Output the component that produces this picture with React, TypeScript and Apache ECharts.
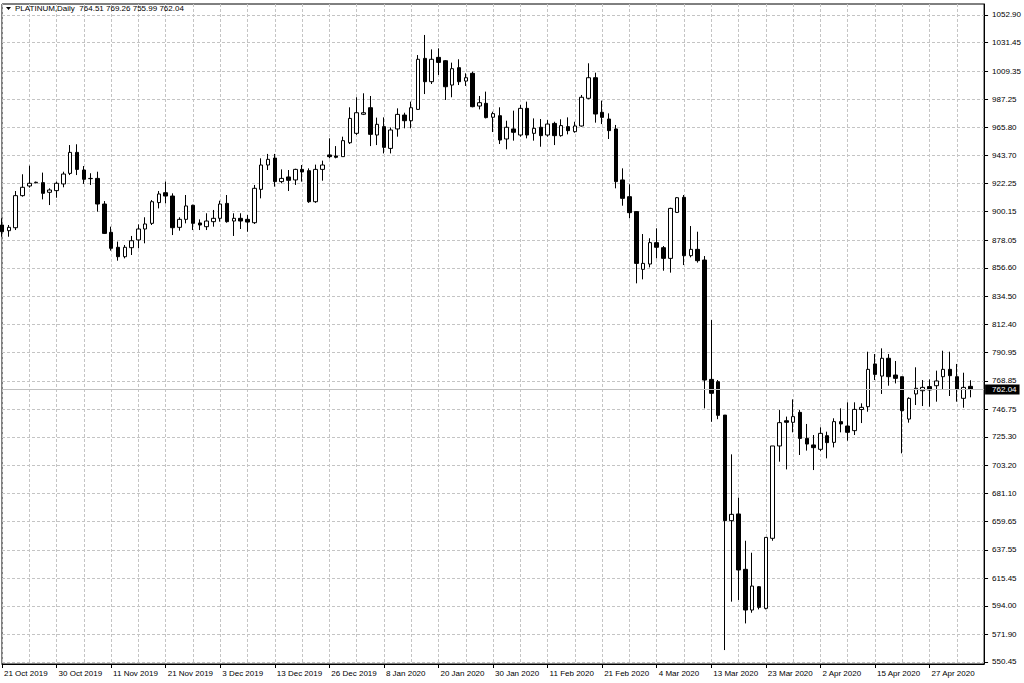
import React, { useEffect, useRef } from "react";
import * as echarts from "echarts";

const symbolName = "PLATINUM,Daily";

const dates = [
  "21 Oct 2019", "22 Oct 2019", "23 Oct 2019", "24 Oct 2019", "25 Oct 2019", "27 Oct 2019", "28 Oct 2019", "29 Oct 2019",
  "30 Oct 2019", "31 Oct 2019", "1 Nov 2019", "4 Nov 2019", "5 Nov 2019", "6 Nov 2019", "7 Nov 2019", "8 Nov 2019",
  "11 Nov 2019", "12 Nov 2019", "13 Nov 2019", "14 Nov 2019", "15 Nov 2019", "18 Nov 2019", "19 Nov 2019", "20 Nov 2019",
  "21 Nov 2019", "22 Nov 2019", "25 Nov 2019", "26 Nov 2019", "27 Nov 2019", "28 Nov 2019", "29 Nov 2019", "2 Dec 2019",
  "3 Dec 2019", "4 Dec 2019", "5 Dec 2019", "6 Dec 2019", "9 Dec 2019", "10 Dec 2019", "11 Dec 2019", "12 Dec 2019",
  "13 Dec 2019", "16 Dec 2019", "17 Dec 2019", "18 Dec 2019", "19 Dec 2019", "20 Dec 2019", "23 Dec 2019", "24 Dec 2019",
  "26 Dec 2019", "27 Dec 2019", "30 Dec 2019", "31 Dec 2019", "2 Jan 2020", "3 Jan 2020", "6 Jan 2020", "7 Jan 2020",
  "8 Jan 2020", "9 Jan 2020", "10 Jan 2020", "13 Jan 2020", "14 Jan 2020", "15 Jan 2020", "16 Jan 2020", "17 Jan 2020",
  "20 Jan 2020", "21 Jan 2020", "22 Jan 2020", "23 Jan 2020", "24 Jan 2020", "27 Jan 2020", "28 Jan 2020", "29 Jan 2020",
  "30 Jan 2020", "31 Jan 2020", "3 Feb 2020", "4 Feb 2020", "5 Feb 2020", "6 Feb 2020", "7 Feb 2020", "10 Feb 2020",
  "11 Feb 2020", "12 Feb 2020", "13 Feb 2020", "14 Feb 2020", "17 Feb 2020", "18 Feb 2020", "19 Feb 2020", "20 Feb 2020",
  "21 Feb 2020", "24 Feb 2020", "25 Feb 2020", "26 Feb 2020", "27 Feb 2020", "28 Feb 2020", "2 Mar 2020", "3 Mar 2020",
  "4 Mar 2020", "5 Mar 2020", "6 Mar 2020", "8 Mar 2020", "9 Mar 2020", "10 Mar 2020", "11 Mar 2020", "12 Mar 2020",
  "13 Mar 2020", "15 Mar 2020", "16 Mar 2020", "17 Mar 2020", "18 Mar 2020", "19 Mar 2020", "20 Mar 2020", "22 Mar 2020",
  "23 Mar 2020", "24 Mar 2020", "25 Mar 2020", "26 Mar 2020", "27 Mar 2020", "30 Mar 2020", "31 Mar 2020", "1 Apr 2020",
  "2 Apr 2020", "3 Apr 2020", "6 Apr 2020", "7 Apr 2020", "8 Apr 2020", "9 Apr 2020", "13 Apr 2020", "14 Apr 2020",
  "15 Apr 2020", "16 Apr 2020", "17 Apr 2020", "20 Apr 2020", "21 Apr 2020", "22 Apr 2020", "23 Apr 2020", "24 Apr 2020",
  "27 Apr 2020", "28 Apr 2020", "29 Apr 2020", "30 Apr 2020", "1 May 2020", "4 May 2020", "5 May 2020",
  "6 May 2020", "7 May 2020",
];

const opens = [
  889.8, 885.4, 887.7, 912.6, 920.1, 922.6, 922.7, 915.2, 916.5, 921.7,
  929.9, 946.2, 932.5, 925.8, 926.0, 906.1, 884.1, 872.5, 865.2, 872.2,
  878.2, 886.7, 891.1, 907.2, 914.9, 912.3, 888.0, 894.2, 905.1, 891.4,
  888.5, 892.4, 895.0, 906.6, 892.9, 895.0, 894.2, 891.6, 917.5, 936.4,
  941.8, 923.5, 927.1, 924.8, 933.0, 932.0, 907.9, 933.0, 944.2, 943.4,
  942.9, 953.7, 961.0, 975.8, 980.9, 959.7, 966.2, 949.3, 964.4, 975.2,
  970.8, 979.6, 1019.2, 1001.1, 1020.0, 1017.4, 998.5, 1012.0, 1001.6, 1007.6,
  982.2, 984.3, 973.5, 974.7, 956.6, 964.4, 959.7, 980.4, 961.0, 965.7,
  959.7, 968.7, 959.2, 966.2, 962.3, 966.7, 988.2, 1004.2, 977.3, 972.1,
  964.4, 924.8, 911.8, 900.2, 855.4, 859.5, 876.1, 872.2, 863.9, 899.6,
  911.3, 866.0, 870.9, 862.6, 769.9, 768.1, 742.2, 660.2, 665.4, 622.4,
  590.8, 608.9, 592.1, 646.5, 718.2, 737.8, 736.6, 744.3, 724.1, 719.0,
  715.6, 726.2, 721.0, 737.1, 733.7, 730.1, 746.5, 748.7, 781.9, 772.5,
  786.3, 773.3, 772.0, 739.1, 758.6, 761.1, 764.3, 765.0, 772.0, 777.7,
  772.0, 755.2, 764.51,
];

const highs = [
  895.0, 889.8, 916.2, 929.2, 935.9, 923.5, 930.5, 918.3, 923.5, 931.2,
  951.9, 952.5, 935.6, 930.0, 931.2, 908.4, 888.5, 876.9, 874.3, 881.3,
  890.3, 895.8, 909.2, 916.2, 923.5, 914.4, 895.8, 913.1, 905.6, 894.2,
  898.9, 901.5, 908.7, 913.1, 898.9, 898.9, 897.6, 920.9, 941.6, 945.0,
  945.0, 933.0, 932.5, 933.5, 936.4, 933.8, 936.7, 939.8, 957.1, 951.1,
  958.4, 981.2, 989.0, 992.1, 990.0, 973.2, 973.4, 965.6, 980.4, 977.0,
  985.6, 1021.8, 1037.4, 1026.2, 1027.0, 1017.9, 1015.9, 1018.5, 1007.6, 1008.9,
  990.0, 993.4, 977.8, 981.2, 970.8, 978.6, 983.0, 985.6, 972.6, 972.1,
  971.3, 970.0, 971.9, 973.4, 970.0, 990.8, 1015.4, 1008.1, 986.4, 976.5,
  967.5, 933.8, 921.4, 900.6, 882.8, 879.5, 887.2, 873.5, 903.2, 911.5,
  913.1, 889.0, 884.6, 865.7, 816.0, 769.4, 742.2, 711.7, 678.1, 644.6,
  635.3, 609.4, 647.2, 718.2, 746.1, 741.0, 754.4, 746.1, 735.3, 726.7,
  732.7, 729.3, 739.7, 747.4, 752.1, 752.1, 751.3, 791.4, 789.6, 794.0,
  789.6, 784.2, 772.0, 756.0, 779.3, 769.4, 769.9, 776.7, 792.2, 791.4,
  781.9, 775.1, 769.26,
];

const lows = [
  880.7, 880.7, 885.9, 911.8, 918.8, 922.2, 909.7, 905.3, 911.0, 919.1,
  928.6, 928.6, 921.7, 920.9, 900.2, 882.8, 869.9, 862.1, 863.9, 866.5,
  871.7, 875.6, 889.8, 902.7, 906.6, 882.0, 885.4, 891.1, 885.9, 885.9,
  885.9, 888.5, 892.4, 891.6, 881.3, 886.7, 884.6, 890.6, 910.5, 932.5,
  919.6, 922.2, 916.2, 920.9, 923.5, 907.0, 907.0, 924.2, 941.6, 941.6,
  942.9, 952.7, 959.7, 975.2, 951.1, 951.9, 945.4, 945.4, 958.4, 964.9,
  964.9, 979.1, 991.5, 999.3, 1006.3, 986.9, 989.0, 998.5, 997.8, 981.2,
  979.6, 972.6, 962.0, 952.7, 948.6, 955.3, 958.4, 957.1, 955.3, 950.6,
  958.4, 951.9, 958.4, 960.2, 961.5, 966.2, 987.4, 969.3, 968.2, 956.6,
  918.3, 904.8, 895.0, 844.5, 847.6, 856.9, 863.9, 854.3, 852.8, 899.2,
  858.7, 864.7, 860.6, 747.4, 737.0, 739.0, 559.7, 597.3, 598.6, 580.4,
  588.7, 591.3, 591.3, 644.6, 706.0, 700.0, 728.8, 711.2, 714.6, 699.5,
  714.3, 708.6, 717.1, 728.8, 722.3, 726.7, 736.0, 744.8, 769.4, 758.6,
  765.0, 766.8, 712.5, 736.3, 750.0, 749.2, 748.7, 752.6, 762.2, 757.0,
  752.6, 747.9, 755.99,
];

const closes = [
  884.6, 888.0, 912.6, 919.1, 922.2, 923.0, 914.4, 917.0, 922.2, 929.4,
  946.2, 933.0, 925.3, 926.0, 906.1, 883.3, 871.7, 865.2, 872.5, 877.6,
  886.7, 890.6, 907.9, 913.9, 912.3, 887.7, 894.2, 904.6, 891.1, 889.8,
  892.9, 895.0, 906.1, 892.4, 895.0, 892.9, 892.1, 918.3, 936.4, 940.8,
  923.5, 926.0, 924.5, 933.0, 931.0, 907.9, 933.0, 936.4, 942.9, 942.4,
  955.3, 972.6, 977.0, 977.0, 960.2, 968.0, 950.1, 963.6, 975.7, 970.8,
  980.9, 1018.5, 1001.1, 1018.5, 1016.1, 997.2, 1011.2, 1001.1, 1004.2, 981.7,
  984.8, 973.2, 976.3, 955.8, 965.7, 961.8, 980.4, 959.7, 964.9, 959.2,
  968.2, 959.2, 967.0, 963.1, 966.7, 989.0, 1004.2, 976.0, 973.4, 963.1,
  923.5, 910.5, 899.4, 860.0, 860.0, 876.1, 872.5, 863.9, 902.7, 911.0,
  866.0, 870.9, 862.1, 769.4, 759.1, 742.0, 660.2, 665.1, 621.9, 590.8,
  609.4, 592.9, 647.2, 718.2, 736.3, 736.6, 741.0, 724.1, 719.7, 716.9,
  728.0, 720.8, 737.1, 735.3, 728.8, 746.6, 748.2, 777.7, 773.8, 786.3,
  772.0, 770.7, 745.6, 755.2, 763.0, 763.7, 761.7, 768.7, 777.7, 772.8,
  762.4, 763.7, 762.04,
];

const priceTicks = [
  1052.9, 1031.45, 1009.35, 987.25, 965.8, 943.7, 922.25, 900.15, 878.05, 856.6,
  834.5, 812.4, 790.95, 768.85, 746.75, 725.3, 703.2, 681.1, 659.65, 637.55,
  615.45, 594.0, 571.9, 550.45,
];

const lastPrice = 762.04;
const yMin = 548.88;
const yMax = 1061.44;

const FONT = "'Liberation Sans', Arial, sans-serif";

export default function App() {
  const ref = useRef<HTMLDivElement>(null);

  useEffect(() => {
    document.body.style.margin = "0";
    const chart = echarts.init(ref.current!, null, { renderer: "svg" });
    const ohlc = opens.map((o, i) => [o, closes[i], lows[i], highs[i]]);
    const n = opens.length - 1;
    const header =
      symbolName +
      "  " +
      [opens[n], highs[n], lows[n], closes[n]].map((v) => v.toFixed(2)).join(" ");
    const labelShown = (idx: number) => idx % 8 === 0 && idx <= 136;
    const gridLine = { color: "#c4c4c4", width: 1, type: [3, 2] as any };

    chart.setOption({
      animation: false,
      backgroundColor: "#ffffff",
      grid: {
        left: 2,
        right: 39,
        top: 4,
        bottom: 19,
        show: true,
        borderColor: "#000",
        borderWidth: 1,
        backgroundColor: "#fff",
      },
      graphic: [
        {
          type: "polygon",
          shape: { points: [[6, 7], [11, 7], [8.5, 10]] },
          style: { fill: "#000" },
          z: 10,
        },
        {
          type: "text",
          left: 15,
          top: 4,
          style: { text: header, fill: "#000", font: `8px ${FONT}` },
          z: 10,
        },
      ],
      xAxis: {
        type: "category",
        data: dates,
        boundaryGap: false,
        axisLine: { show: true, lineStyle: { color: "#000", width: 1 } },
        axisTick: {
          show: true,
          length: 4,
          interval: (idx: number) => labelShown(idx),
          lineStyle: { color: "#000" },
        },
        axisLabel: {
          interval: (idx: number) => labelShown(idx),
          align: "left",
          margin: 5,
          padding: [0, 0, 0, 2],
          fontSize: 8,
          fontFamily: FONT,
          color: "#000",
        },
        splitLine: { show: true, interval: 3, lineStyle: gridLine },
      },
      yAxis: {
        type: "value",
        position: "right",
        min: yMin,
        max: yMax,
        scale: true,
        axisLine: { show: true, lineStyle: { color: "#000", width: 1 } },
        axisTick: {
          show: true,
          length: 4,
          customValues: priceTicks,
          lineStyle: { color: "#000" },
        },
        axisLabel: {
          customValues: priceTicks,
          formatter: (v: number) => v.toFixed(2),
          margin: 8,
          fontSize: 8,
          fontFamily: FONT,
          color: "#000",
        },
        splitLine: { show: true, lineStyle: gridLine },
      },
      series: [
        {
          type: "candlestick",
          data: ohlc,
          barWidth: 4,
          itemStyle: {
            color: "#ffffff",
            color0: "#000000",
            borderColor: "#000000",
            borderColor0: "#000000",
            borderWidth: 1,
          },
          markLine: {
            silent: true,
            symbol: ["none", "none"],
            lineStyle: { color: "#c0c0c0", type: "solid", width: 1 },
            label: {
              show: true,
              position: "end",
              distance: 1,
              formatter: () => lastPrice.toFixed(2),
              backgroundColor: "#000",
              color: "#fff",
              padding: [1, 3, 1, 7],
              fontSize: 8,
              fontFamily: FONT,
            },
            data: [{ yAxis: lastPrice }],
          },
        },
      ],
    });
    return () => chart.dispose();
  }, []);

  return (
    <div
      ref={ref}
      style={{ position: "absolute", left: 0, top: 0, width: 1024, height: 683 }}
    />
  );
}
